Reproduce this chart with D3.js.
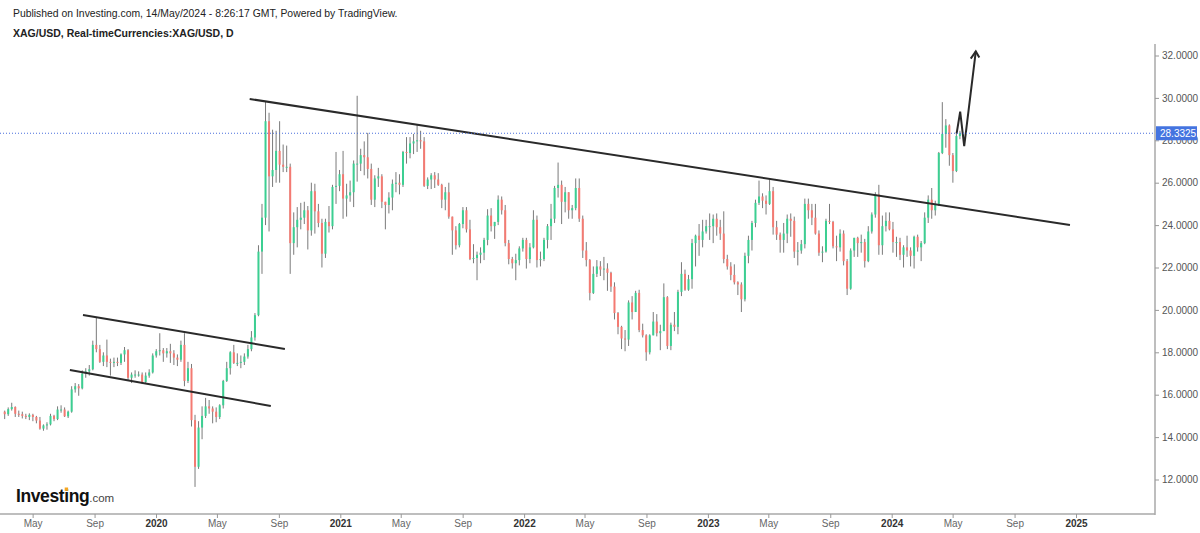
<!DOCTYPE html>
<html><head><meta charset="utf-8">
<script src="https://cdn.jsdelivr.net/npm/d3@7"></script>
<style>
body{margin:0;background:#fff;}
svg{display:block;font-family:"Liberation Sans",Arial,sans-serif;}
</style>
</head><body>
<svg id="chart" width="1200" height="533"></svg>
<script>
// ---- weekly OHLC: [open, high, low, close] ----
const start2019 = "2019-03-04";
const ohlc2019 = [
[15.20,15.25,14.85,15.08],[15.08,15.40,15.00,15.32],[15.32,15.62,15.25,15.42],[15.42,15.45,14.95,15.10],
[15.10,15.25,14.95,15.08],[15.08,15.20,14.88,15.00],[15.00,15.10,14.85,14.95],[14.95,15.12,14.80,15.05],[15.05,15.10,14.75,14.95],
[14.95,15.00,14.65,14.78],[14.78,14.95,14.35,14.40],[14.40,14.60,14.30,14.55],[14.55,14.70,14.35,14.60],
[14.60,15.10,14.55,15.00],[15.00,15.05,14.75,14.85],[14.85,15.45,14.80,15.30],[15.30,15.50,15.15,15.30],
[15.30,15.40,14.95,14.98],[14.98,15.25,14.90,15.20],[15.20,16.40,15.15,16.25],[16.25,16.55,16.10,16.40],[16.40,16.50,15.95,16.30],
[16.30,17.15,16.25,17.00],[17.00,17.25,16.80,17.10],[17.10,17.40,16.90,17.20],[17.20,18.55,17.15,18.35],
[18.35,19.65,18.00,18.15],[18.15,18.35,17.50,17.55],[17.55,18.00,17.35,17.85],[17.85,18.60,17.30,17.55],[17.55,17.70,16.90,17.50],
[17.50,17.75,17.30,17.55],[17.55,17.75,17.35,17.50],[17.50,17.95,17.40,17.90],[17.90,18.25,17.55,18.10],
[18.10,18.15,16.65,16.80],[16.80,17.05,16.55,16.95],[16.95,17.15,16.80,16.95],[16.95,17.10,16.85,16.95],
[16.95,17.05,16.50,16.60],[16.60,17.05,16.55,16.90],[16.90,17.20,16.80,17.05],[17.05,17.95,17.00,17.85],[17.85,18.15,17.75,18.05]
];
const start2020 = "2020-01-06";
const ohlc2020 = [
[18.05,18.90,17.85,18.10],[18.10,18.20,17.55,17.95],[17.95,18.20,17.75,18.05],[18.05,18.40,17.50,17.95],
[17.95,18.10,17.40,17.75],[17.75,17.90,17.35,17.65],[17.65,18.55,17.55,18.35],[18.35,18.90,16.40,16.65],
[16.65,17.55,16.55,17.25],[17.25,17.45,14.50,14.80],[14.80,15.05,11.65,12.60],[12.60,14.75,12.50,14.45],[14.45,15.45,13.90,15.00],
[15.00,15.85,14.90,15.45],[15.45,15.75,15.10,15.35],[15.35,15.45,14.65,15.20],[15.20,15.40,14.70,14.95],
[14.95,15.55,14.85,15.50],[15.50,16.70,15.35,16.65],[16.65,17.55,16.60,17.25],[17.25,18.05,16.95,18.00],
[18.00,18.35,17.45,17.50],[17.50,17.95,17.35,17.50],[17.50,17.85,17.25,17.55],[17.55,17.95,17.40,17.80],[17.80,18.35,17.70,18.15],
[18.15,19.00,18.05,18.70],[18.70,19.85,18.55,19.75],[19.75,23.05,19.70,22.75],[22.75,25.00,21.70,24.35],
[24.35,29.85,24.00,28.90],[28.90,29.30,23.70,26.30],[26.30,28.50,25.80,26.60],[26.60,28.45,26.00,27.50],[27.50,28.90,26.00,26.85],
[26.85,27.80,26.50,26.75],[26.75,27.75,26.50,26.75],[26.75,26.90,21.70,23.15],[23.15,24.60,22.60,23.90],
[23.90,24.85,22.95,24.25],[24.25,25.05,23.80,24.35],[24.35,25.10,24.05,24.70],[24.70,24.90,22.85,23.75],
[23.75,26.00,23.50,25.60],[25.60,25.95,23.60,24.65],[24.65,25.00,23.90,24.10],[24.10,24.30,22.00,22.65],[22.65,24.30,22.45,24.15],
[24.15,24.90,23.65,23.95],[23.95,25.90,23.80,25.80],[25.80,27.45,25.00,25.85],[25.85,26.60,25.60,26.40]
];
const start2021 = "2021-01-04";
const ohlc2021 = [
[26.40,27.50,24.30,25.25],[25.25,25.95,24.40,25.40],[25.40,26.10,25.10,25.55],[25.55,27.05,24.85,26.90],
[26.90,30.10,26.05,26.90],[26.90,27.60,26.55,27.30],[27.30,27.95,26.35,27.20],[27.20,28.35,26.20,26.65],
[26.65,26.90,24.95,25.20],[25.20,26.35,24.85,26.20],[26.20,26.70,25.80,26.30],[26.30,26.40,24.80,25.10],[25.10,25.10,23.80,24.95],
[24.95,25.55,24.55,25.30],[25.30,26.15,24.70,25.95],[25.95,26.50,25.55,26.00],[26.00,26.40,25.45,25.90],
[25.90,27.50,25.80,27.45],[27.45,28.15,26.90,27.40],[27.40,28.15,27.15,27.85],[27.85,28.30,27.35,27.95],[27.95,28.75,27.45,28.00],
[28.00,28.45,27.60,27.95],[27.95,28.15,25.80,25.85],[25.85,26.25,25.70,26.15],[26.15,26.45,25.70,26.35],
[26.35,26.50,25.75,26.15],[26.15,26.45,25.85,25.90],[25.90,25.95,24.80,25.20],[25.20,25.80,24.70,25.55],
[25.55,26.00,24.30,24.40],[24.40,24.40,22.60,23.75],[23.75,23.95,22.85,23.05],[23.05,24.10,22.95,24.05],[24.05,24.85,23.85,24.70],
[24.70,24.85,23.65,23.80],[23.80,24.25,22.35,22.40],[22.40,23.10,22.20,22.45],[22.45,22.75,21.40,22.60],
[22.60,22.95,22.20,22.70],[22.70,23.40,22.35,23.30],[23.30,24.75,23.05,24.45],[24.45,24.80,23.70,23.95],
[23.95,24.15,23.35,24.15],[24.15,25.40,24.00,25.20],[25.20,25.35,24.50,24.70],[24.70,24.95,23.00,23.15],[23.15,23.30,22.15,22.40],
[22.40,22.50,21.95,22.20],[22.20,22.65,21.40,22.35],[22.35,23.00,22.10,22.90],[22.90,23.40,22.75,23.30]
];
const start2022 = "2022-01-03";
const ohlc2022 = [
[23.30,23.40,21.95,22.40],[22.40,23.15,22.20,22.95],[22.95,24.70,22.90,24.25],[24.25,24.45,22.00,22.35],[22.35,22.75,22.05,22.40],
[22.40,23.40,22.30,23.30],[23.30,24.05,22.90,23.95],[23.95,25.00,23.30,24.30],[24.30,25.85,24.10,25.75],
[25.75,26.95,25.30,25.90],[25.90,26.10,24.05,25.10],[25.10,25.80,24.60,25.55],[25.55,25.55,24.30,24.70],
[24.70,24.95,24.30,24.80],[24.80,26.20,24.70,25.75],[25.75,26.20,24.15,24.30],[24.30,24.45,22.45,22.80],
[22.80,23.20,22.05,22.35],[22.35,22.40,20.45,20.80],[20.80,22.05,20.75,21.70],[21.70,22.35,21.55,22.05],[22.05,22.30,21.60,21.90],
[21.90,22.50,21.40,21.95],[21.95,22.20,20.90,21.75],[21.75,21.80,20.85,21.10],[21.10,21.30,19.55,19.85],
[19.85,19.90,18.85,19.20],[19.20,19.25,18.15,18.65],[18.65,19.05,18.05,18.60],[18.60,20.45,18.30,20.35],
[20.35,20.65,19.55,19.90],[19.90,20.90,19.90,20.80],[20.80,20.95,18.95,19.05],[19.05,19.35,18.70,18.80],[18.80,18.85,17.60,18.00],
[18.00,18.85,17.90,18.80],[18.80,19.90,18.80,19.45],[19.45,19.80,18.75,18.90],[18.90,19.30,18.10,19.00],
[19.00,21.25,19.00,20.60],[20.60,20.65,18.15,18.30],[18.30,19.40,18.10,19.30],[19.30,19.90,19.00,19.20],[19.20,20.95,18.85,20.85],
[20.85,22.25,20.65,21.70],[21.70,21.90,20.90,20.95],[20.95,21.65,20.90,21.45],[21.45,23.35,21.00,23.15],
[23.15,23.55,22.05,23.50],[23.50,24.05,22.55,23.30],[23.30,24.25,22.95,23.70],[23.70,24.25,23.60,23.95]
];
const start2023 = "2023-01-02";
const ohlc2023 = [
[23.95,24.55,23.30,23.95],[23.95,24.50,23.15,24.30],[24.30,24.55,23.50,23.90],[23.90,24.25,23.30,23.60],[23.60,24.65,22.20,22.40],
[22.40,22.60,21.90,22.05],[22.05,22.25,21.40,21.65],[21.65,22.15,21.20,21.30],[21.30,21.35,20.70,21.20],
[21.20,21.30,19.90,20.50],[20.50,22.70,20.40,22.55],[22.55,23.50,22.20,23.30],[23.30,24.20,22.80,24.10],
[24.10,25.20,23.90,25.05],[25.05,26.10,24.95,25.35],[25.35,25.50,24.80,25.15],[25.15,25.40,24.50,25.00],
[25.00,26.15,24.95,25.60],[25.60,25.80,23.55,23.90],[23.90,24.20,23.30,23.55],[23.55,23.65,22.70,23.30],[23.30,24.10,22.70,23.60],
[23.60,24.50,23.15,24.30],[24.30,24.55,23.45,24.20],[24.20,24.40,22.45,22.75],[22.75,23.20,22.10,22.80],
[22.80,23.30,22.65,23.10],[23.10,25.25,22.90,25.00],[25.00,25.25,24.30,24.70],[24.70,25.00,24.00,24.35],[24.35,25.00,23.55,23.60],
[23.60,23.75,22.55,22.70],[22.70,23.00,22.25,22.75],[22.75,24.30,22.70,24.20],[24.20,25.00,24.05,24.15],
[24.15,24.20,22.90,23.00],[23.00,23.50,22.30,22.95],[22.95,23.80,22.75,23.60],[23.60,23.75,22.10,22.30],
[22.30,22.40,20.70,21.00],[21.00,22.90,20.95,22.80],[22.80,23.40,22.50,23.40],[23.40,23.45,22.50,23.15],[23.15,23.55,22.70,23.20],
[23.20,23.35,22.00,22.30],[22.30,23.95,22.25,23.70],[23.70,24.60,23.60,24.50],[24.50,25.55,24.35,25.45],
[25.45,25.90,22.60,23.05],[23.05,24.45,22.60,23.95],[23.95,24.60,23.70,24.20],[24.20,24.60,23.75,23.80]
];
const start2024 = "2024-01-01";
const ohlc2024 = [
[23.80,24.15,22.70,23.20],[23.20,23.45,22.50,23.20],[23.20,23.40,22.35,22.60],[22.60,23.05,22.00,22.95],[22.95,23.50,22.50,22.80],
[22.80,22.95,22.05,22.55],[22.55,23.50,21.95,23.45],[23.45,23.55,22.75,22.95],[22.95,23.25,22.30,23.15],
[23.15,24.60,23.10,24.35],[24.35,25.40,24.10,25.20],[25.20,25.75,24.30,24.70],[24.70,25.15,24.45,25.00],
[25.00,27.45,24.90,27.40],[27.40,29.80,27.35,28.30],[28.30,29.00,27.65,28.70],[28.70,28.75,26.80,27.30],[27.30,27.40,26.00,26.55],
[26.55,28.40,26.50,28.20],[28.20,28.45,28.05,28.33]
];
const lastPrice = 28.3325;
const priceTicks = [12,14,16,18,20,22,24,26,28,30,32];
const dateTicks = ["2019-05-01","2019-09-01","2020-01-01","2020-05-01","2020-09-01","2021-01-01","2021-05-01","2021-09-01",
  "2022-01-01","2022-05-01","2022-09-01","2023-01-01","2023-05-01","2023-09-01","2024-01-01","2024-05-01","2024-09-01","2025-01-01"];
// drawn trend lines: [date, price] endpoints
const resistanceLine = [["2020-07-05",29.95],["2024-12-20",24.00]];
const channelUpper = [["2019-08-09",19.76],["2020-09-13",18.16]];
const channelLower = [["2019-07-14",17.17],["2020-08-16",15.47]];
const arrowPath = [["2024-05-09",28.33],["2024-05-16",29.35],["2024-05-24",27.73],["2024-06-16",32.19]];
const arrowHead = [["2024-06-06",31.85],["2024-06-16",32.19],["2024-06-23",31.90]];

// ---- build ----
const parse = d3.timeParse("%Y-%m-%d");
const years = [[start2019,ohlc2019],[start2020,ohlc2020],[start2021,ohlc2021],[start2022,ohlc2022],[start2023,ohlc2023],[start2024,ohlc2024]];
const bars = [];
years.forEach(([s,arr])=>{
  const d0 = parse(s);
  arr.forEach((v,i)=>{
    const d = d3.timeHour.offset(d3.timeDay.offset(d0, i*7+2), 12);
    bars.push({date:d, o:v[0], h:v[1], l:v[2], c:v[3]});
  });
});

const svg = d3.select("#chart");
const axisX = 1155, axisY = 514;
const x = d3.scaleTime().domain([parse("2020-01-01"), parse("2025-01-01")]).range([156, 1076]);
const y = d3.scaleLinear().domain([12,32]).range([479.5,55.5]);

// header
svg.append("text").attr("x",13).attr("y",17).attr("font-size",10.4).attr("fill","#222")
  .text("Published on Investing.com, 14/May/2024 - 8:26:17 GMT, Powered by TradingView.");
svg.append("text").attr("x",13).attr("y",37).attr("font-size",10.5).attr("font-weight","bold").attr("fill","#222")
  .text("XAG/USD, Real-timeCurrencies:XAG/USD, D");

// candles
const bw = 2.0;
const g = svg.append("g");
g.selectAll("line.w").data(bars).join("line").attr("class","w")
  .attr("x1",d=>x(d.date)).attr("x2",d=>x(d.date))
  .attr("y1",d=>y(d.h)).attr("y2",d=>y(d.l))
  .attr("stroke","#7a7a7a").attr("stroke-width",1);
g.selectAll("rect").data(bars).join("rect")
  .attr("x",d=>x(d.date)-bw/2).attr("width",bw)
  .attr("y",d=>y(Math.max(d.o,d.c)))
  .attr("height",d=>Math.max(1, Math.abs(y(d.o)-y(d.c))))
  .attr("fill",d=>d.c>=d.o ? "#3ccf92" : "#f47a72");

// trend lines
const pt = p => [x(parse(p[0])), y(p[1])];
const line = d3.line();
[resistanceLine, channelUpper, channelLower].forEach(L=>{
  svg.append("path").attr("d", line(L.map(pt))).attr("stroke","#2a2a2a").attr("stroke-width",2).attr("fill","none");
});
svg.append("path").attr("d", line(arrowPath.map(pt))).attr("stroke","#2a2a2a").attr("stroke-width",2)
  .attr("fill","none").attr("stroke-linejoin","miter");
svg.append("path").attr("d", line(arrowHead.map(pt))).attr("stroke","#2a2a2a").attr("stroke-width",2)
  .attr("fill","none");

// last price dotted line
svg.append("line").attr("x1",0).attr("x2",axisX).attr("y1",y(lastPrice)).attr("y2",y(lastPrice))
  .attr("stroke","#4a6fdc").attr("stroke-width",1).attr("stroke-dasharray","1,2");

// axes frame
svg.append("line").attr("x1",axisX).attr("x2",axisX).attr("y1",44).attr("y2",axisY+1)
  .attr("stroke","#a8a8a8").attr("stroke-width",1.5);
svg.append("line").attr("x1",0).attr("x2",axisX).attr("y1",axisY).attr("y2",axisY)
  .attr("stroke","#a8a8a8").attr("stroke-width",1.5);

// y axis (the 28 label sits under the last-price tag, as in the original)
const yAxis = d3.axisRight(y).tickValues(priceTicks).tickFormat(d3.format(".4f")).tickSize(4).tickPadding(3);
const ya = svg.append("g").attr("transform",`translate(${axisX},0)`).call(yAxis);
ya.select(".domain").remove();
ya.selectAll("line").attr("stroke","#999");
ya.selectAll("text").attr("fill","#555").attr("font-size",10).attr("font-family","Liberation Sans, Arial, sans-serif");

// x axis
const fmt = d => d.getMonth()===0 ? d3.timeFormat("%Y")(d) : d3.timeFormat("%b")(d);
const xAxis = d3.axisBottom(x).tickValues(dateTicks.map(parse)).tickFormat(fmt).tickSize(4).tickPadding(2);
const xa = svg.append("g").attr("transform",`translate(0,${axisY})`).call(xAxis);
xa.select(".domain").remove();
xa.selectAll("line").attr("stroke","#999");
xa.selectAll("text").attr("font-size",10).attr("font-family","Liberation Sans, Arial, sans-serif")
  .attr("fill",d=>d.getMonth()===0 ? "#333" : "#666")
  .attr("font-weight",d=>d.getMonth()===0 ? "bold" : "normal");

// last price tag
const ly = y(lastPrice);
svg.append("rect").attr("x",axisX+1).attr("y",ly-7).attr("width",41).attr("height",14).attr("fill","#4474e0");
svg.append("text").attr("x",axisX+5).attr("y",ly+3.6).attr("font-size",10).attr("fill","#fff").text(lastPrice.toFixed(4));

// logo
const logo = svg.append("text").attr("x",16).attr("y",502).attr("font-size",17.5).attr("font-weight","bold").attr("fill","#111")
  .attr("letter-spacing","-0.4");
logo.append("tspan").text("Investing");
logo.append("tspan").attr("font-size",11.5).attr("font-weight","normal").attr("fill","#444").attr("letter-spacing","0").text(".com");
try {
  const node = logo.node();
  const s = node.getStartPositionOfChar(6);
  const e = node.getEndPositionOfChar(6);
  svg.append("rect").attr("x",(s.x+e.x)/2-1.7).attr("y",487.5).attr("width",3.4).attr("height",3.4).attr("fill","#f5a623");
} catch(err) {}
</script>
</body></html>
